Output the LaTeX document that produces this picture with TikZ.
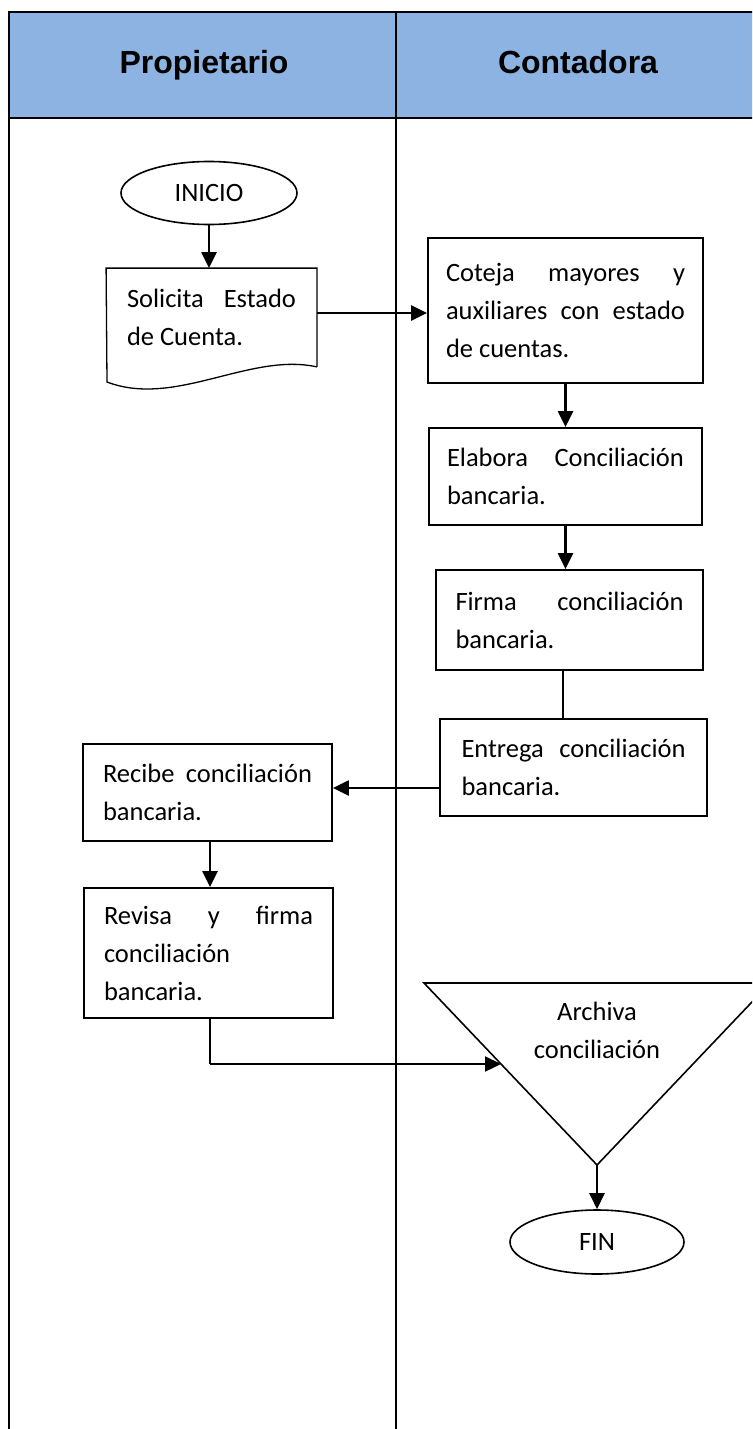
\documentclass[tikz,border=0pt]{standalone}
\usepackage{fontspec}
\setmainfont{Carlito}
\newfontfamily\headfont{Liberation Sans}
\usetikzlibrary{arrows.meta,shapes.geometric}

\definecolor{headblue}{RGB}{141,179,226}

\begin{document}
\begin{tikzpicture}[x=1pt,y=-1pt,
  lane/.style={line width=2.2pt},
  bodyfont/.style={font=\fontsize{26.5}{38}\selectfont},
  procbox/.style={draw, line width=1.8pt, rectangle, inner sep=0pt,
    align=justify, bodyfont},
  terminal/.style={draw, line width=1.6pt, ellipse, inner sep=0pt, bodyfont},
  headtext/.style={anchor=base, font=\headfont\bfseries\fontsize{32}{38}\selectfont},
  flow/.style={line width=2.3pt, -{Triangle[length=16pt,width=15pt]}},
  link/.style={line width=2.2pt}
]
\clip (0,0) rectangle (752,1429);

% swimlane table
\fill[headblue] (9,12) rectangle (770,118);
\draw[lane] (9,1440) -- (9,12) -- (770,12);
\draw[lane] (9,118) -- (770,118);
\draw[lane] (396,12) -- (396,1440);
\node[headtext] (hprop) at (204,74) {Propietario};
\node[headtext] (hcont) at (578,74) {Contadora};

% Propietario lane
\node[terminal, minimum width=176pt, minimum height=63pt] (ini) at (209,193) {INICIO};

\node[procbox, draw=none, minimum width=209pt, minimum height=97pt, text width=169pt]
  (sol) at (211.5,317.5) {Solicita Estado\linebreak de Cuenta.};
\draw[line width=1.3pt] (sol.south east) -- (sol.north east) -- (sol.north west)
  -- (107,382) .. controls (175,408) and (250,352) .. (sol.south east);

\node[procbox, minimum width=249pt, minimum height=97pt, text width=209pt]
  (rec) at (207.5,792.5) {Recibe conciliación\linebreak bancaria.};
\node[procbox, minimum width=249pt, minimum height=130pt, text width=209pt]
  (rev) at (208.5,953) {Revisa y firma\linebreak conciliación\newline bancaria.};

% Contadora lane
\node[procbox, minimum width=275pt, minimum height=145pt, text width=239pt]
  (cot) at (565.5,310.5) {Coteja mayores y\linebreak auxiliares con estado\linebreak de cuentas.};
\node[procbox, minimum width=273pt, minimum height=97pt, text width=237pt]
  (ela) at (565.5,476.5) {Elabora Conciliación\linebreak bancaria.};
\node[procbox, minimum width=267pt, minimum height=100pt, text width=228pt]
  (fir) at (569.5,620) {Firma conciliación\linebreak bancaria.};
\node[procbox, minimum width=267pt, minimum height=97pt, text width=224pt]
  (ent) at (573.5,767.5) {Entrega conciliación\linebreak bancaria.};

% archive (inverted triangle)
\coordinate (triL) at (424,983);
\coordinate (triR) at (770,983);
\coordinate (triB) at (597,1165);
\draw[line width=1.6pt] (triL) -- (triR) -- (triB) -- cycle;
\node[bodyfont, align=center] (arc) at (597,1030) {Archiva\\conciliación};

\node[terminal, minimum width=174pt, minimum height=64pt] (fin) at (597,1242) {FIN};

% connectors
\draw[flow] (ini.south) -- (ini.south |- sol.north);
\draw[flow] (sol.east |- 0,313) -- (cot.west |- 0,313);
\draw[flow] (cot.south) -- (ela.north);
\draw[flow] (ela.south) -- (ela.south |- fir.north);
\draw[link] (fir.south -| 563,0) -- (ent.north -| 563,0);
\draw[flow] (ent.west |- 0,788) -- (rec.east |- 0,788);
\draw[flow] (rec.south -| 210,0) -- (rev.north -| 210,0);
\coordinate (bend) at (210,1064);
\coordinate (archin) at (501,1064);
\draw[line width=1.3pt] (rev.south -| bend) -- (bend);
\draw[flow] (bend) -- (archin);
\draw[flow] (triB) -- (fin.north);
\end{tikzpicture}
\end{document}
